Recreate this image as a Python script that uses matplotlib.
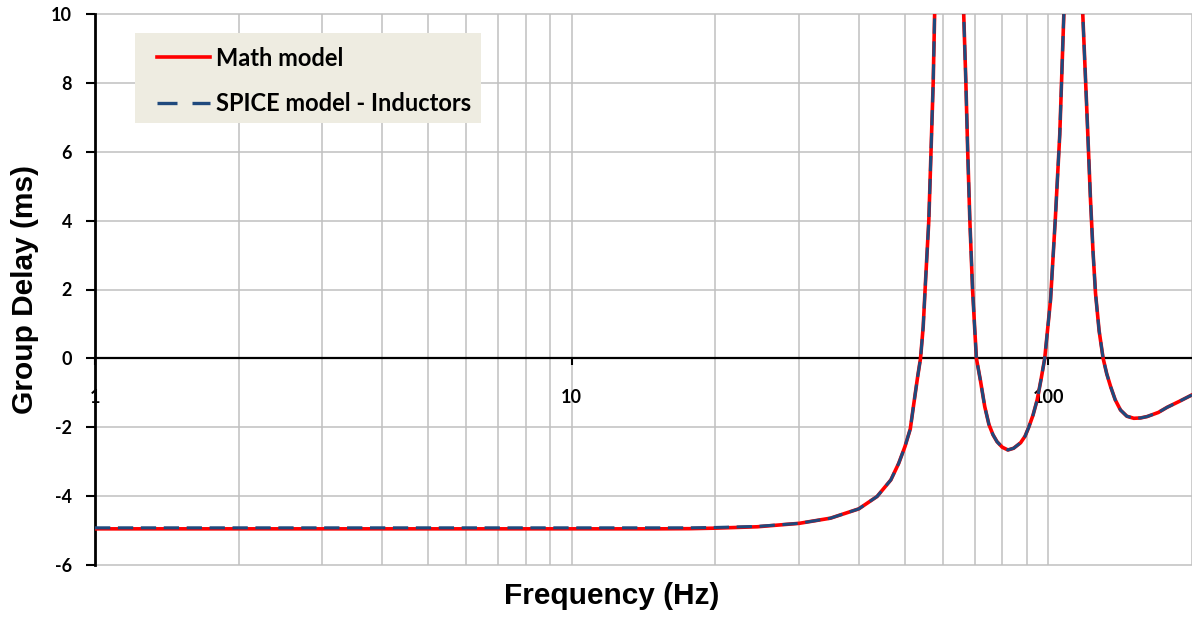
import matplotlib.pyplot as plt
from matplotlib.lines import Line2D
from matplotlib.patches import Rectangle
from matplotlib.ticker import FixedLocator, NullFormatter

# group delay vs frequency
freq_hz = [1, 2, 5, 10, 15, 17.7, 20, 24.5, 30, 34.9, 40, 43.7, 46.7, 48.5, 50,
           51.3, 52.2, 53.2, 53.9, 54.6, 55.2, 56.1, 56.7, 57.3, 57.7, 58.5, 60,
           62, 64, 66, 66.4, 67.1, 67.7, 68.4, 69.3, 70.0, 70.6, 72.0, 73.5, 75.0,
           76.5, 78.0, 80, 82.2, 84.5, 87.4, 89.3, 90.9, 92.8, 94.7, 96.5, 98.2,
           101, 103.4, 105.6, 107.7, 109, 112, 115, 118, 120.1, 122.5, 124, 125.5,
           127.7, 130.2, 132.5, 135, 138, 141.6, 146, 151, 156, 161, 170, 177.4,
           188, 200]

math_delay_ms = [-4.95, -4.95, -4.95, -4.95, -4.95, -4.945, -4.93, -4.89, -4.79,
                 -4.64, -4.37, -4.01, -3.53, -3.05, -2.56,
                 -2.05, -1.3, -0.5, 0.0, 0.92, 2.2, 4.0, 6.0, 8.0, 10.0, 14, 18,
                 20, 17, 11.5, 10.0, 8.0, 6.0, 4.0, 2.0, 0.9, 0.0, -0.65, -1.4, -1.92,
                 -2.22, -2.42, -2.58, -2.66, -2.61, -2.45, -2.26, -2.0, -1.65, -1.2, -0.6, 0.0,
                 1.7, 4.1, 6.5, 10.0, 13, 18, 14, 10.0, 7.5, 4.6, 3.1, 1.89,
                 0.8, 0.0, -0.45, -0.82, -1.2, -1.5, -1.68, -1.74, -1.73, -1.69, -1.57, -1.42,
                 -1.25, -1.06]

spice_delay_ms = [-4.92, -4.92, -4.92, -4.92, -4.92, -4.92, -4.91, -4.88, -4.79,
                  -4.64, -4.37, -4.01, -3.53, -3.05, -2.56,
                  -2.05, -1.3, -0.5, 0.0, 0.92, 2.2, 4.0, 6.0, 8.0, 10.0, 14, 18,
                  20, 17, 11.5, 10.0, 8.0, 6.0, 4.0, 2.0, 0.9, 0.0, -0.65, -1.4, -1.92,
                  -2.22, -2.42, -2.58, -2.66, -2.61, -2.45, -2.26, -2.0, -1.65, -1.2, -0.6, 0.0,
                  1.7, 4.1, 6.5, 10.0, 13, 18, 14, 10.0, 7.5, 4.6, 3.1, 1.89,
                  0.8, 0.0, -0.45, -0.82, -1.2, -1.5, -1.68, -1.74, -1.73, -1.69, -1.57, -1.42,
                  -1.25, -1.06]

major_ticks = [1, 10, 100]
minor_ticks = [2, 3, 4, 5, 6, 7, 8, 9, 20, 30, 40, 50, 60, 70, 80, 90, 200]
series_names = ['Math model', 'SPICE model - Inductors']

plt.rcParams['font.family'] = 'Lato'
plt.rcParams['font.weight'] = 'bold'
plt.rcParams['axes.unicode_minus'] = False

fig = plt.figure(figsize=(11.92, 6.17), dpi=100)
ax = fig.add_axes([95/1192, 52/617, 1097/1192, 551/617])

red, navy = '#ff0000', '#1f497d'
ax.plot(freq_hz, math_delay_ms, color=red, lw=2.6, zorder=3)
ax.plot(freq_hz, spice_delay_ms, color=navy, lw=2.2, dashes=(5, 2.5), zorder=4)

ax.set_xscale('log')
ax.set_xlim(1, 200)
ax.set_ylim(-6, 10)
ax.set_yticks(range(-6, 11, 2))
ax.xaxis.set_major_locator(FixedLocator(major_ticks))
ax.xaxis.set_minor_locator(FixedLocator(minor_ticks))
ax.xaxis.set_minor_formatter(NullFormatter())
ax.set_xticklabels([str(t) for t in major_ticks])

ax.grid(which='both', color='#c0c0c0', lw=1.1)
ax.set_axisbelow(True)
for gl in ax.get_ygridlines():
    gl.set_clip_on(False)

# excel style: x axis crosses at zero
ax.spines['bottom'].set_position(('data', 0))
ax.spines['bottom'].set_linewidth(1.6)
ax.spines['left'].set_linewidth(2)
ax.spines['top'].set_visible(False)
ax.spines['right'].set_visible(False)

ax.tick_params(axis='x', which='major', direction='out', length=5, width=1.5,
               pad=17, labelsize=13)
ax.tick_params(axis='x', which='minor', length=0)
ax.tick_params(axis='y', direction='out', length=6.5, width=1.5, pad=10, labelsize=13)

fig.text(612/1192, 1 - 596/617, 'Frequency (Hz)', ha='center', va='center',
         fontsize=21.5, fontweight='bold', family='Liberation Sans')
fig.text(25/1192, 1 - 289/617, 'Group Delay (ms)', ha='center', va='center',
         rotation=90, fontsize=21.5, fontweight='bold', family='Liberation Sans')

# legend: tan box behind, handles drawn a bit wider than the plot lines
ax.add_patch(Rectangle((0.0365, 0.802), 0.3154, 0.1633, transform=ax.transAxes,
                       facecolor='#eeece1', edgecolor='none', zorder=5, clip_on=False))
handles = [Line2D([], [], color=red, lw=2.6),
           Line2D([], [], color=navy, lw=2.4, dashes=(6, 4.5))]
leg = ax.legend(handles, series_names, loc='upper left', bbox_to_anchor=(0.0565, 0.941),
                borderaxespad=0, borderpad=0, frameon=False,
                prop={'family': 'Lato', 'weight': 'bold', 'size': 17},
                handlelength=2.25, handletextpad=0.25, labelspacing=0.95)
leg.set_zorder(6)

fig.savefig('out.png', dpi=100)
